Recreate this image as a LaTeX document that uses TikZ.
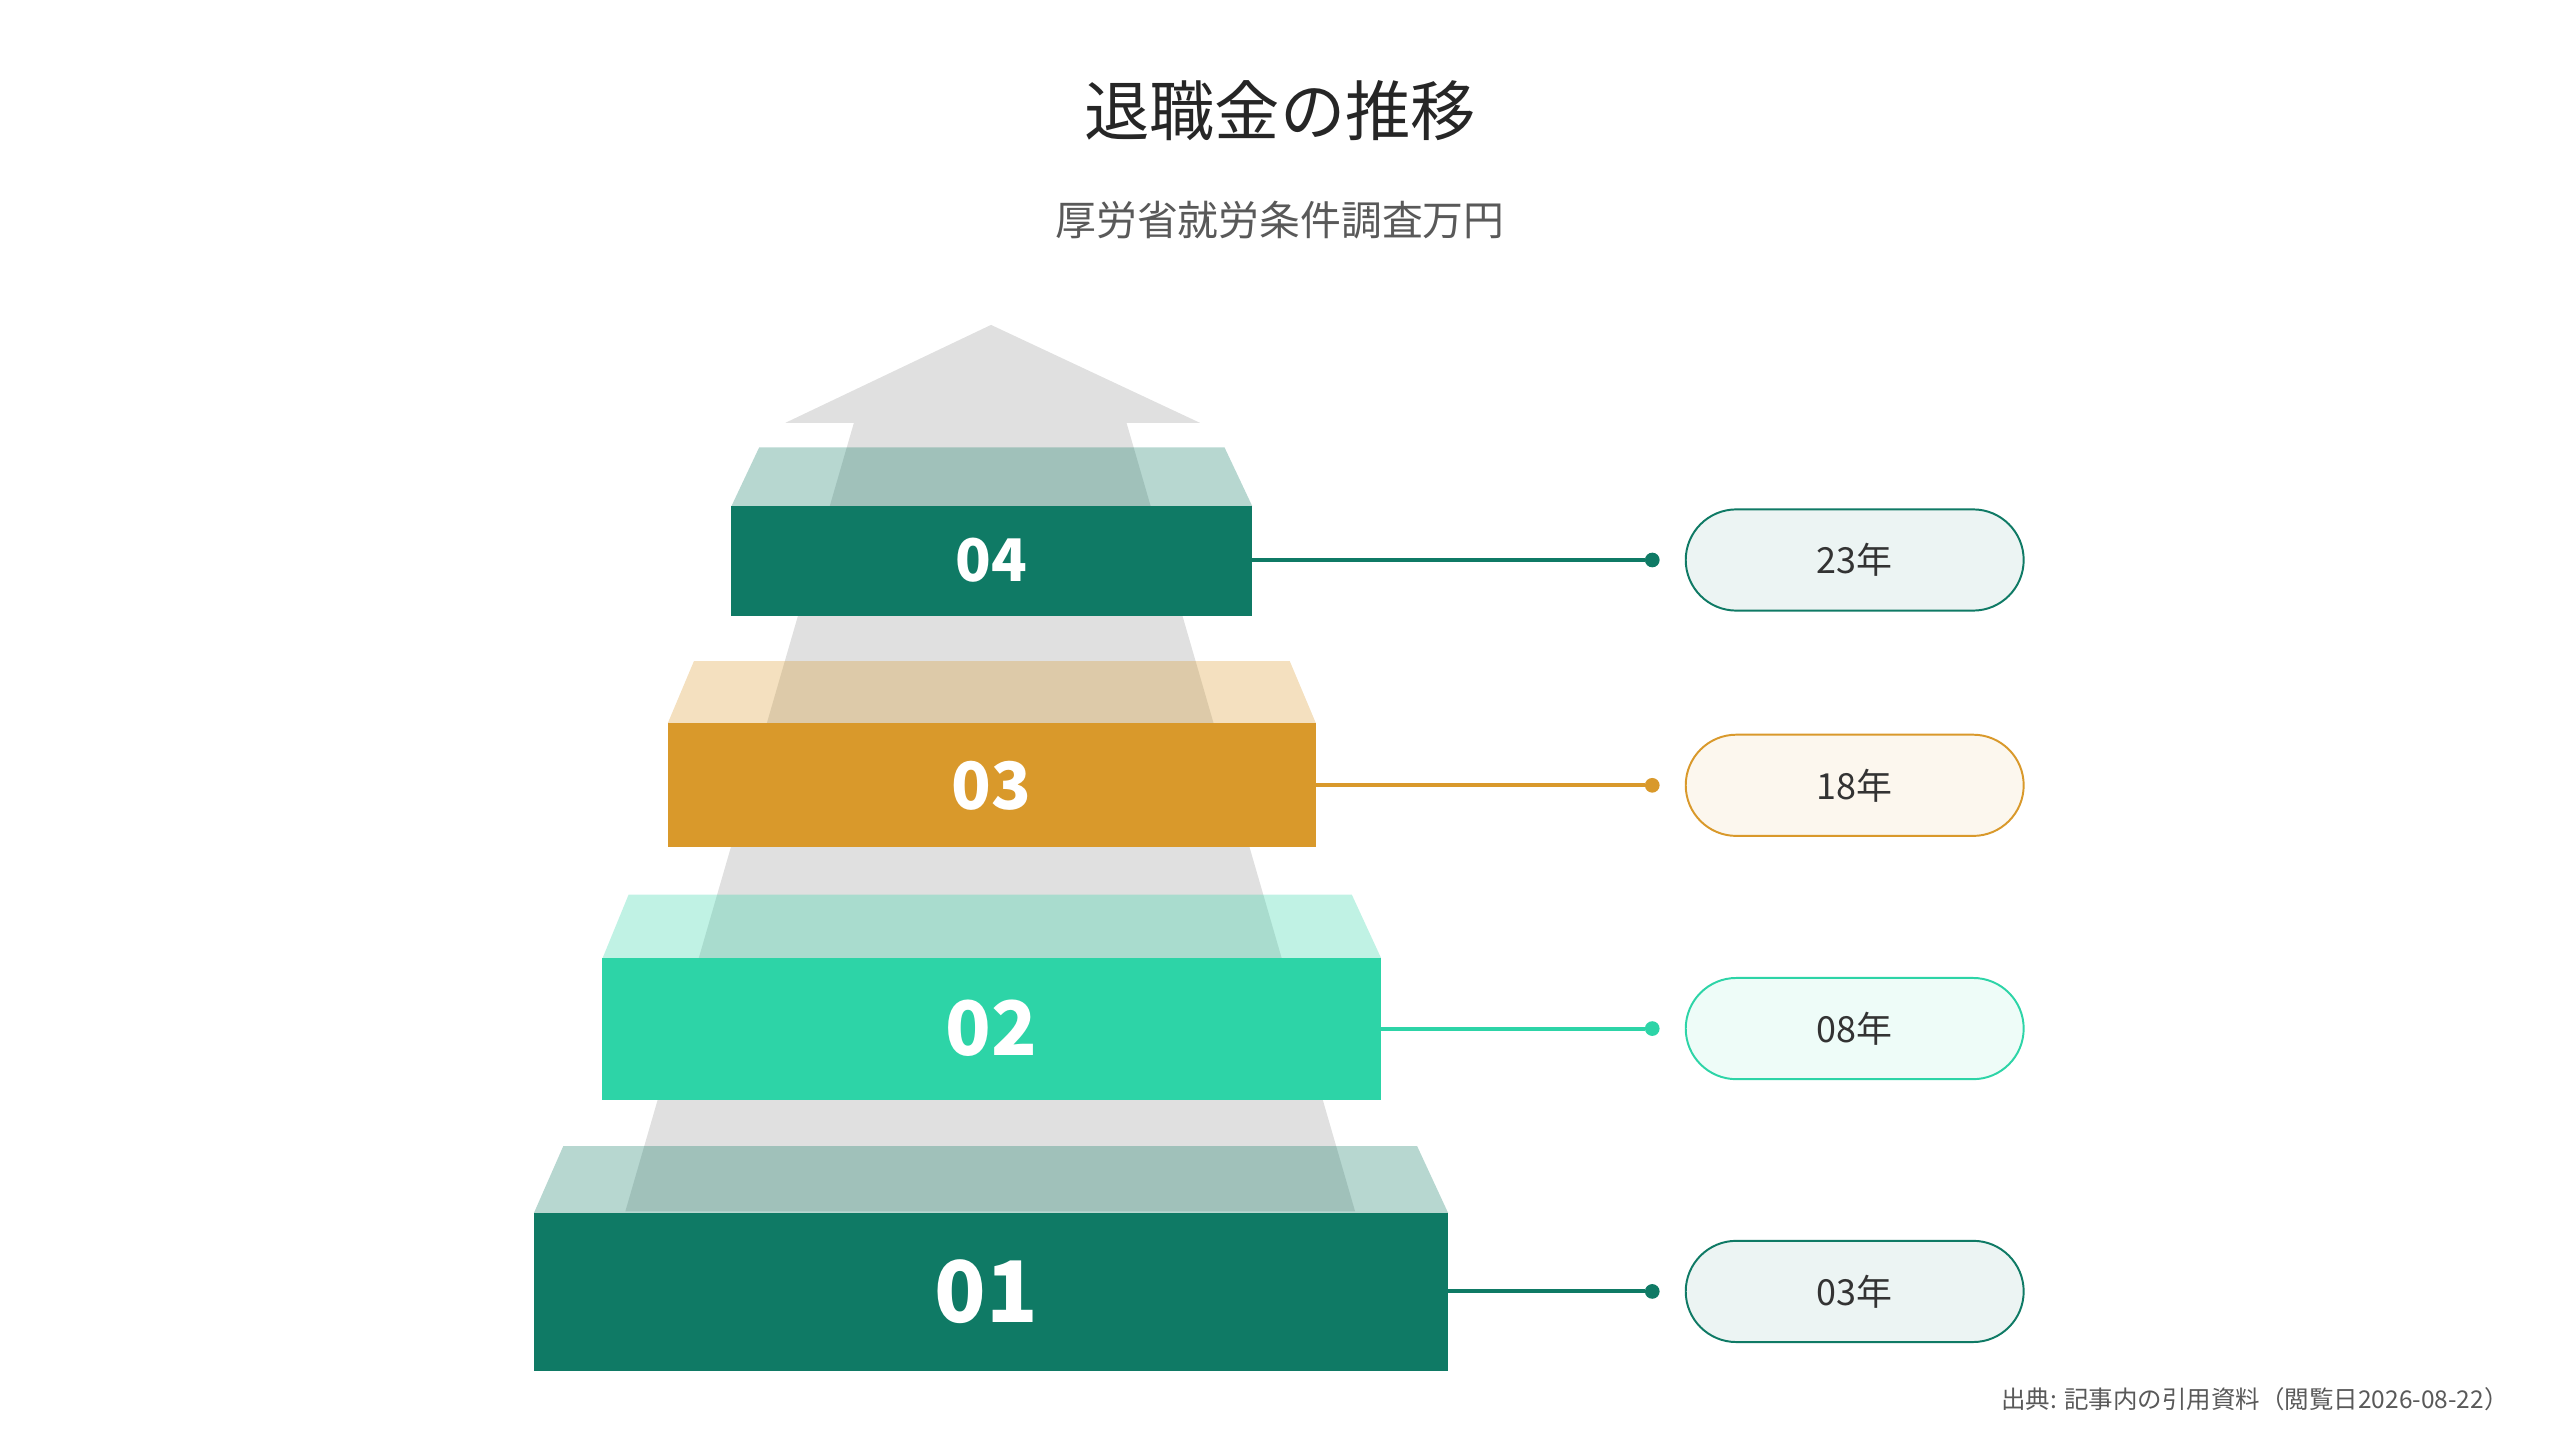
\documentclass[tikz,border=0pt]{standalone}
\usepackage{fontspec}
\setmainfont{Noto Sans CJK JP}
\definecolor{teal}{HTML}{0F7A65}
\definecolor{gold}{HTML}{D9992B}
\definecolor{mint}{HTML}{2DD4A7}
\definecolor{arrowg}{HTML}{E0E0E0}
\begin{document}
\begin{tikzpicture}[x=1pt,y=-1pt,
  num/.style={text=white,font=\bfseries},
  pill/.style={draw=#1,line width=1.2pt,rounded corners=31pt,minimum width=207pt,minimum height=62pt,fill=#1!8,font=\fontsize{22}{24}\selectfont,text=black!80},
  con/.style={draw=#1,line width=2.5pt},
  dot/.style={fill=#1,circle,inner sep=0pt,minimum size=9pt}]
\useasboundingbox (0,0) rectangle (1568,882);
\node[font=\fontsize{40}{44}\selectfont,text=black!85] (title) at (784,68) {退職金の推移};
\node[font=\fontsize{25}{28}\selectfont,text=black!65] (sub) at (784,135) {厚労省就労条件調査万円};
% arrow
\fill[arrowg] (607,199) -- (735,259) -- (690,259) -- (830,742) -- (383,742) -- (523,259) -- (481,259) -- cycle;
% tiers
\fill[teal,opacity=0.3] (465,274) -- (750,274) -- (767,310) -- (448,310) -- cycle;
\fill[teal] (448,310) rectangle (767,377);
\fill[gold,opacity=0.3] (425,405) -- (790,405) -- (806,443) -- (409,443) -- cycle;
\fill[gold] (409,443) rectangle (806,519);
\fill[mint,opacity=0.3] (385,548) -- (828,548) -- (846,587) -- (369,587) -- cycle;
\fill[mint] (369,587) rectangle (846,674);
\fill[teal,opacity=0.3] (345,702) -- (868,702) -- (887,743) -- (327,743) -- cycle;
\fill[teal] (327,743) rectangle (887,840);
\node[num,font=\bfseries\fontsize{36}{40}\selectfont] (n4) at (607,343) {04};
\node[num,font=\bfseries\fontsize{40}{44}\selectfont] (n3) at (607,481) {03};
\node[num,font=\bfseries\fontsize{46}{50}\selectfont] (n2) at (607,630) {02};
\node[num,font=\bfseries\fontsize{52}{56}\selectfont] (n1) at (604,791) {01};
\coordinate (e4) at (767,343); \coordinate (e3) at (806,481);
\coordinate (e2) at (846,630); \coordinate (e1) at (887,791);
\node[dot=teal] (d4) at (1012,343) {};
\node[dot=gold] (d3) at (1012,481) {};
\node[dot=mint] (d2) at (1012,630) {};
\node[dot=teal] (d1) at (1012,791) {};
\draw[con=teal] (e4) -- (d4); \draw[con=gold] (e3) -- (d3);
\draw[con=mint] (e2) -- (d2); \draw[con=teal] (e1) -- (d1);
\node[pill=teal] (p4) at (1136,343) {23年};
\node[pill=gold] (p3) at (1136,481) {18年};
\node[pill=mint] (p2) at (1136,630) {08年};
\node[pill=teal] (p1) at (1136,791) {03年};
\node[anchor=east,font=\fontsize{15}{17}\selectfont,text=black!65] (src) at (1540,857) {出典: 記事内の引用資料（閲覧日2026-08-22）};
\end{tikzpicture}
\end{document}
